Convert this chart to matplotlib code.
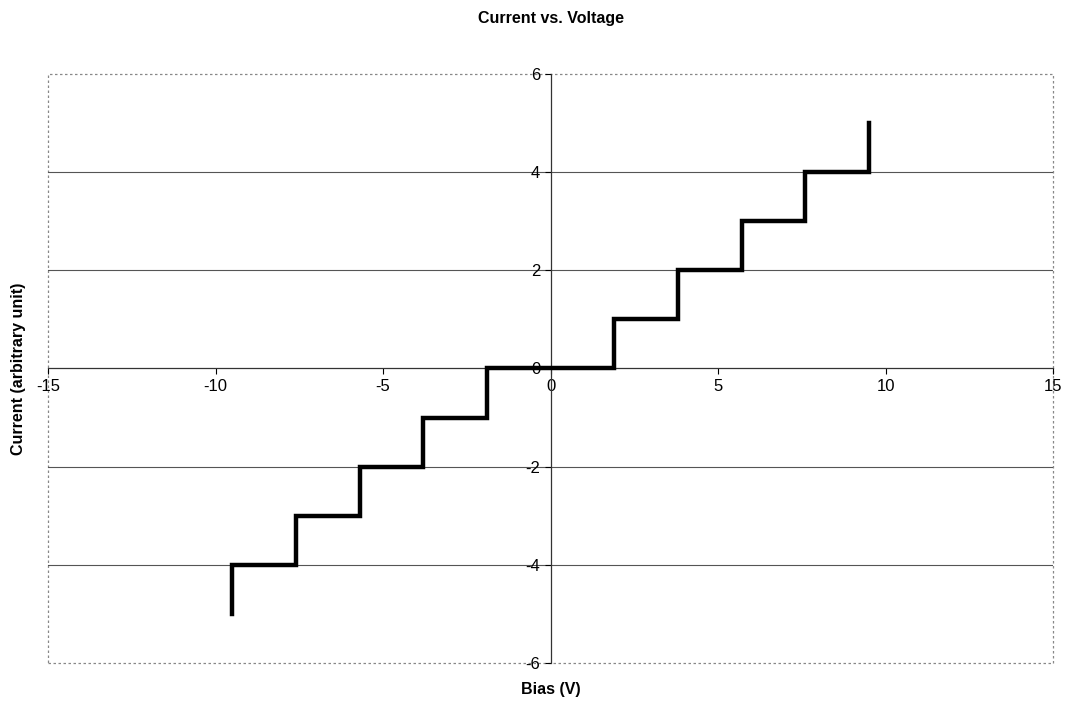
import matplotlib
matplotlib.use("Agg")
import matplotlib.pyplot as plt

# staircase I-V data
bias = [-9.5, -9.5, -7.6, -7.6, -5.7, -5.7, -3.8, -3.8, -1.9, -1.9,
        1.9, 1.9, 3.8, 3.8, 5.7, 5.7, 7.6, 7.6, 9.5, 9.5]
current = [-5, -4, -4, -3, -3, -2, -2, -1, -1, 0,
           0, 1, 1, 2, 2, 3, 3, 4, 4, 5]
x_ticks = [-15, -10, -5, 0, 5, 10, 15]
y_ticks = [-6, -4, -2, 0, 2, 4, 6]
grid_y = [-4, -2, 2, 4]

plt.rcParams["font.family"] = ["Liberation Sans", "DejaVu Sans"]

fig = plt.figure(figsize=(10.67, 7.02), dpi=100, facecolor="white")
ax = fig.add_axes([0.045, 0.0556, 0.942, 0.839])

ax.set_xlim(-15, 15)
ax.set_ylim(-6, 6)

for gy in grid_y:
    ax.axhline(gy, color="#555555", linewidth=0.8, zorder=1)

ax.plot(bias, current, color="black", linewidth=3.2, solid_joinstyle="miter", zorder=3)

# axes crossing at origin
ax.spines["left"].set_position(("data", 0))
ax.spines["bottom"].set_position(("data", 0))
ax.spines["right"].set_visible(False)
ax.spines["top"].set_visible(False)
for s in ("left", "bottom"):
    ax.spines[s].set_color("#333333")
    ax.spines[s].set_linewidth(0.9)
    ax.spines[s].set_zorder(2)

# dotted plot-area border
border = plt.Rectangle((0, 0), 1, 1, transform=ax.transAxes, fill=False,
                       edgecolor="#888888", linewidth=0.9, linestyle=(0, (2, 2)),
                       clip_on=False, zorder=0)
ax.add_patch(border)

ax.set_xticks(x_ticks)
ax.set_yticks(y_ticks)
ax.set_xticklabels([str(t) for t in x_ticks])
ax.set_yticklabels([str(t) for t in y_ticks])
ax.tick_params(axis="both", direction="out", length=4, width=0.8,
               labelsize=12, colors="black")

fig.text(0.516, 0.974, "Current vs. Voltage", ha="center", va="center",
         fontsize=11.5, fontweight="bold")
fig.text(0.516, 0.018, "Bias (V)", ha="center", va="center",
         fontsize=11.5, fontweight="bold")
fig.text(0.017, 0.475, "Current (arbitrary unit)", ha="center", va="center",
         rotation=90, fontsize=11.5, fontweight="bold")

fig.savefig("out.png", dpi=100, facecolor="white")
